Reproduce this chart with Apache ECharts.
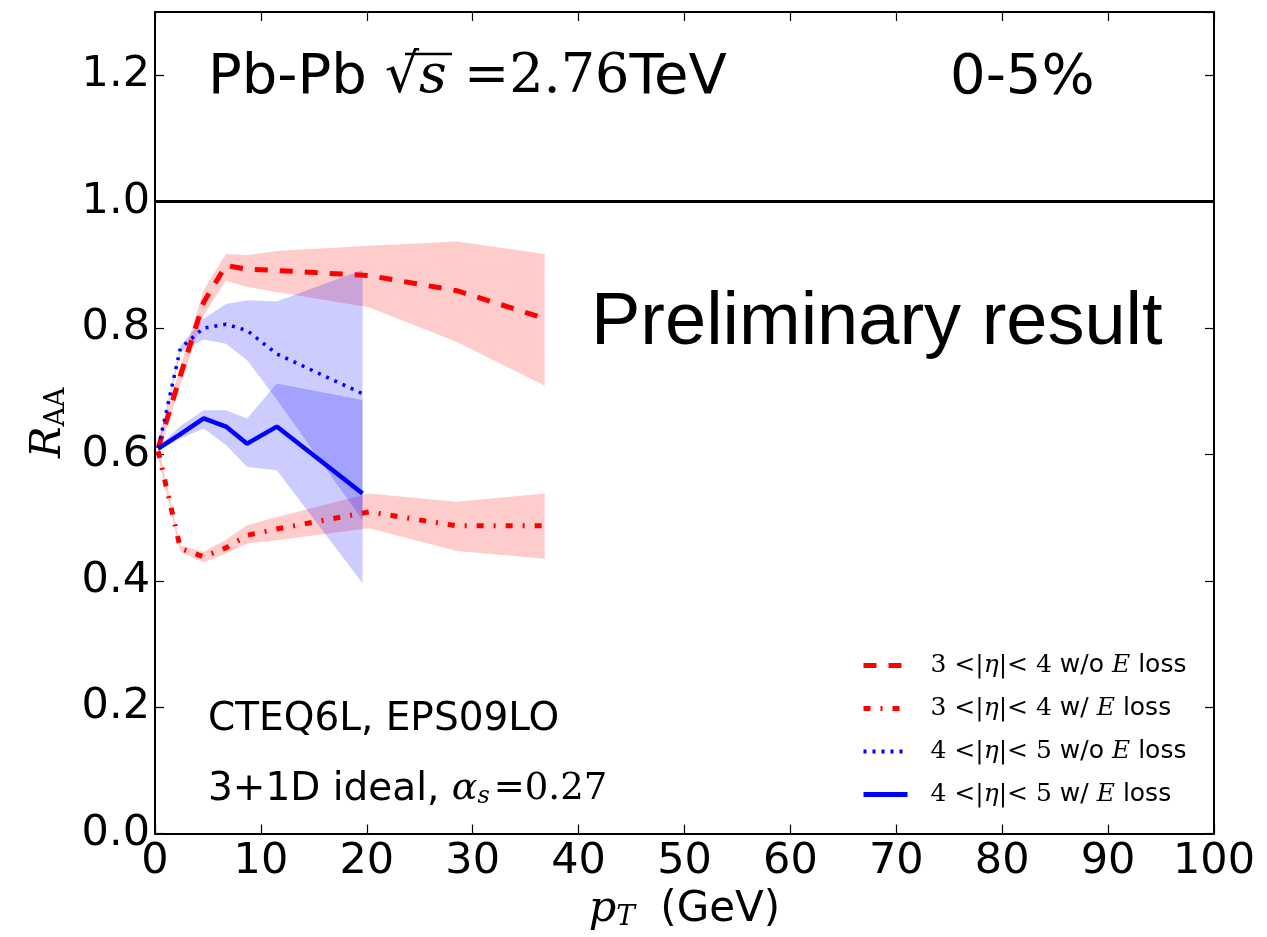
<!DOCTYPE html>
<html><head><meta charset="utf-8">
<script src="https://cdn.jsdelivr.net/npm/echarts@6/dist/echarts.min.js"></script>
<style>html,body{margin:0;padding:0;background:#fff}#c{width:1267px;height:937px}</style>
</head><body><div id="c"></div>
<script>
// ---- data ----
const xRed = [0.3, 2.4, 4.6, 6.7, 8.7, 11.5, 20.2, 28.5, 36.8];
const redNoLoss   = [0.610, 0.725, 0.841, 0.899, 0.893, 0.891, 0.883, 0.859, 0.815];
const redNoLossHi = [0.620, 0.740, 0.860, 0.917, 0.915, 0.922, 0.930, 0.937, 0.917];
const redNoLossLo = [0.600, 0.710, 0.820, 0.875, 0.865, 0.857, 0.833, 0.778, 0.709];
const redLoss     = [0.605, 0.451, 0.438, 0.452, 0.472, 0.482, 0.509, 0.487, 0.487];
const redLossHi   = [0.615, 0.456, 0.446, 0.465, 0.488, 0.501, 0.538, 0.525, 0.538];
const redLossLo   = [0.595, 0.446, 0.429, 0.443, 0.459, 0.464, 0.483, 0.447, 0.435];
const xBlue = [0.3, 2.4, 4.6, 6.7, 8.7, 11.5, 19.6];
const blueNoLoss   = [0.610, 0.768, 0.800, 0.806, 0.796, 0.759, 0.696];
const blueNoLossHi = [0.615, 0.772, 0.815, 0.838, 0.844, 0.842, 0.892];
const blueNoLossLo = [0.605, 0.762, 0.782, 0.775, 0.749, 0.687, 0.496];
const blueLoss     = [0.609, 0.632, 0.657, 0.644, 0.617, 0.644, 0.538];
const blueLossHi   = [0.612, 0.645, 0.670, 0.670, 0.657, 0.712, 0.686];
const blueLossLo   = [0.606, 0.625, 0.641, 0.615, 0.580, 0.575, 0.396];
const refLineX = [0, 100];
const refLineY = [1.0, 1.0];
const seriesNames = ['r1', 'r2', 'b1', 'b2'];
const legendLabels = {
  r1: ['3', '4', 'w/o'],
  r2: ['3', '4', 'w/'],
  b1: ['4', '5', 'w/o'],
  b2: ['4', '5', 'w/']
};

const zip = (xs, ys) => xs.map((x, i) => [x, ys[i]]);

function band(xs, lo, hi, color) {
  return {
    type: 'custom', silent: true, clip: false, z: 1,
    data: [[xs[0], lo[0]]],
    renderItem: function (params, api) {
      const pts = [];
      for (let i = 0; i < xs.length; i++) pts.push(api.coord([xs[i], hi[i]]));
      for (let i = xs.length - 1; i >= 0; i--) pts.push(api.coord([xs[i], lo[i]]));
      return { type: 'polygon', shape: { points: pts }, style: { fill: color } };
    }
  };
}
function line(name, xs, ys, color, width, type) {
  return {
    name: name, type: 'line', data: zip(xs, ys), symbol: 'none', showSymbol: false,
    z: 5, silent: true, animation: false,
    lineStyle: { color: color, width: width, type: type, cap: 'butt' },
    itemStyle: { color: color }
  };
}

const RED_BAND = 'rgba(255,0,0,0.2)';
const BLUE_BAND = 'rgba(0,0,255,0.2)';

const chart = echarts.init(document.getElementById('c'), null, { renderer: 'canvas' });
const axisLineStyle = { color: '#000', width: 2 };
const tickStyle = { inside: true, length: 9, lineStyle: { color: '#000', width: 1.2 } };

chart.setOption({
  animation: false,
  backgroundColor: '#fff',
  grid: { left: 155, right: 53, top: 12, bottom: 103, containLabel: false },
  xAxis: [{
    type: 'value', min: 0, max: 100, interval: 10, position: 'bottom',
    axisLine: { show: true, onZero: false, lineStyle: axisLineStyle },
    axisTick: tickStyle,
    splitLine: { show: false },
    axisLabel: { fontSize: 43, fontFamily: 'DejaVu Sans', color: '#000', margin: 7 },
    name: '{i|p}{s|T}{n| (GeV)}', nameLocation: 'middle', nameGap: 28,
    nameTextStyle: {
      color: '#000',
      rich: {
        i: { fontFamily: 'DejaVu Serif', fontStyle: 'italic', fontSize: 43, color: '#000' },
        s: { fontFamily: 'DejaVu Serif', fontStyle: 'italic', fontSize: 28, color: '#000', padding: [16, 0, 0, 0] },
        n: { fontFamily: 'DejaVu Sans', fontSize: 42, color: '#000', padding: [0, 0, 0, 12] }
      }
    }
  }, {
    type: 'value', min: 0, max: 100, interval: 10, position: 'top',
    axisLine: { show: true, onZero: false, lineStyle: axisLineStyle },
    axisTick: tickStyle, axisLabel: { show: false }, splitLine: { show: false }
  }],
  yAxis: [{
    type: 'value', min: 0, max: 1.3, interval: 0.2, position: 'left',
    axisLine: { show: true, onZero: false, lineStyle: axisLineStyle },
    axisTick: tickStyle, splitLine: { show: false },
    axisLabel: { fontSize: 43, fontFamily: 'DejaVu Sans', color: '#000', margin: 5, showMaxLabel: false,
      formatter: v => v.toFixed(1) },
    name: '{i|R}{s|AA}', nameLocation: 'middle', nameGap: 82, nameRotate: 90,
    nameTextStyle: {
      color: '#000',
      rich: {
        i: { fontFamily: 'DejaVu Serif', fontStyle: 'italic', fontSize: 42, color: '#000' },
        s: { fontFamily: 'DejaVu Serif', fontSize: 27, color: '#000', padding: [16, 0, 0, 0] }
      }
    }
  }, {
    type: 'value', min: 0, max: 1.3, interval: 0.2, position: 'right',
    axisLine: { show: true, onZero: false, lineStyle: axisLineStyle },
    axisTick: tickStyle, axisLabel: { show: false }, splitLine: { show: false }
  }],
  legend: {
    data: [
      { name: 'r1', lineStyle: { width: 5 } },
      { name: 'r2', lineStyle: { width: 5 } },
      { name: 'b1', lineStyle: { width: 4 } },
      { name: 'b2', lineStyle: { width: 5 } }
    ],
    orient: 'vertical', left: 856, top: 648,
    itemWidth: 44, itemHeight: 14, itemGap: 18, selectedMode: false,
    itemStyle: { opacity: 0, borderWidth: 0 },
    lineStyle: { width: 5 },
    formatter: function (name) {
      const l = legendLabels[name];
      return '{m|' + l[0] + ' <|}{mi|η}{m||< ' + l[1] + '}{t| ' + l[2] + ' }{mi|E}{t| loss}';
    },
    textStyle: {
      color: '#000', padding: [0, 0, 0, 18],
      rich: {
        m: { fontFamily: 'DejaVu Serif', fontSize: 25, color: '#000' },
        mi: { fontFamily: 'DejaVu Serif', fontStyle: 'italic', fontSize: 25, color: '#000' },
        t: { fontFamily: 'DejaVu Sans', fontSize: 25, color: '#000' }
      }
    }
  },
  graphic: [
    { type: 'text', left: 208, top: 50, silent: true, style: {
      text: '{sf|Pb-Pb }{m|√}{mi|s}{m| =2.76}{sf|TeV}', fill: '#000',
      rich: {
        sf: { fontFamily: 'DejaVu Sans', fontSize: 56, fill: '#000' },
        m: { fontFamily: 'DejaVu Serif', fontSize: 54, fill: '#000' },
        mi: { fontFamily: 'DejaVu Serif', fontStyle: 'italic', fontSize: 54, fill: '#000' }
      } } },
    { type: 'line', silent: true, shape: { x1: 405, y1: 54, x2: 452, y2: 54 },
      style: { stroke: '#000', lineWidth: 2.5 } },
    { type: 'text', left: 950, top: 50, silent: true, style: {
      text: '0-5%', fontFamily: 'DejaVu Sans', fontSize: 56, fill: '#000' } },
    { type: 'text', left: 591, top: 287, silent: true, style: {
      text: 'Preliminary result', fontFamily: 'Liberation Sans', fontSize: 74, fill: '#000' } },
    { type: 'text', left: 208, top: 700, silent: true, style: {
      text: 'CTEQ6L, EPS09LO', fontFamily: 'DejaVu Sans', fontSize: 39, fill: '#000' } },
    { type: 'text', left: 208, top: 770, silent: true, style: {
      text: '{t|3+1D ideal, }{mi|α}{sub|s}{m|=0.27}', fill: '#000',
      rich: {
        t: { fontFamily: 'DejaVu Sans', fontSize: 39, fill: '#000' },
        mi: { fontFamily: 'DejaVu Serif', fontStyle: 'italic', fontSize: 38, fill: '#000' },
        sub: { fontFamily: 'DejaVu Serif', fontStyle: 'italic', fontSize: 24, fill: '#000', padding: [14, 4, 0, 0] },
        m: { fontFamily: 'DejaVu Serif', fontSize: 37, fill: '#000' }
      } } }
  ],
  series: [
    band(xRed, redNoLossLo, redNoLossHi, RED_BAND),
    band(xRed, redLossLo, redLossHi, RED_BAND),
    band(xBlue, blueNoLossLo, blueNoLossHi, BLUE_BAND),
    band(xBlue, blueLossLo, blueLossHi, BLUE_BAND),
    {
      type: 'line', data: zip(refLineX, refLineY), symbol: 'none', silent: true, z: 4,
      lineStyle: { color: '#000', width: 3 }
    },
    line('r1', xRed, redNoLoss, '#ff0000', 5, [13, 12]),
    line('r2', xRed, redLoss, '#ff0000', 5, [7, 10, 2, 10]),
    line('b1', xBlue, blueNoLoss, '#0000ff', 3.5, [3, 6]),
    line('b2', xBlue, blueLoss, '#0000ff', 4.5, 'solid')
  ]
});
</script>
</body></html>
